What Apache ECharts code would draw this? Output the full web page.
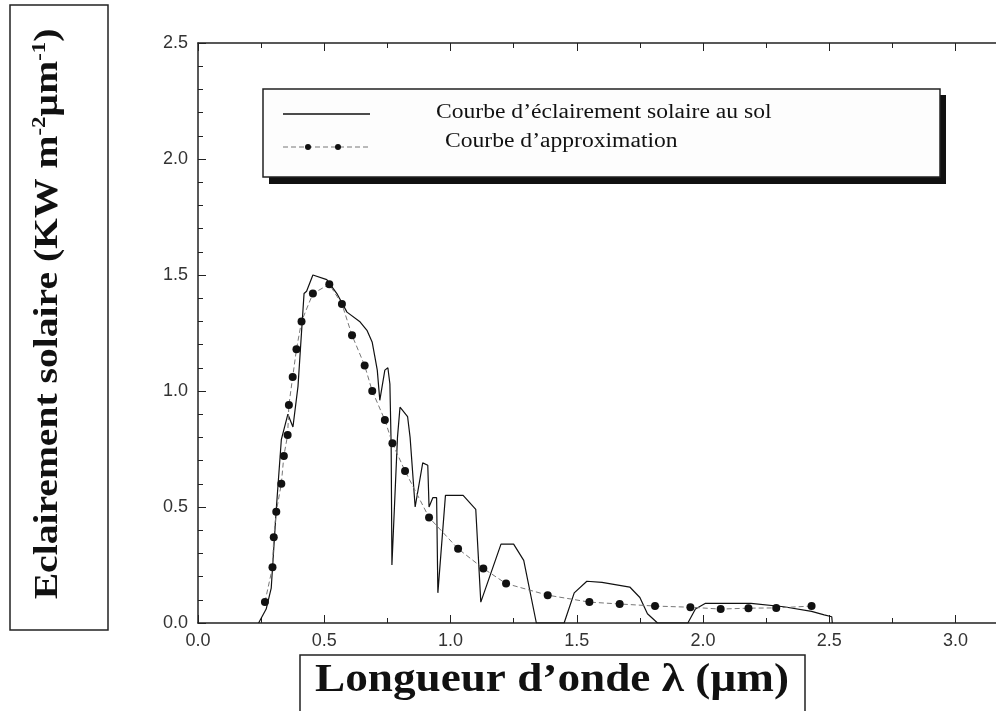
<!DOCTYPE html>
<html>
<head>
<meta charset="utf-8">
<script src="https://cdn.jsdelivr.net/npm/echarts@6/dist/echarts.min.js"></script>
<style>
html,body{margin:0;padding:0;background:#fff;}
#main{width:996px;height:711px;}
</style>
</head>
<body>
<div id="main"></div>
<script>
// courbe mesuree (eclairement solaire au sol)
var solX = [0.24,0.27,0.29,0.31,0.33,0.356,0.376,0.396,0.42,0.43,0.455,0.51,0.55,0.59,0.64,0.67,0.69,0.70,0.71,0.72,0.74,0.752,0.76,0.765,0.768,0.79,0.80,0.83,0.84,0.86,0.89,0.91,0.915,0.93,0.945,0.95,0.98,1.05,1.10,1.12,1.20,1.25,1.29,1.34,1.45,1.49,1.54,1.60,1.71,1.75,1.78,1.82,1.94,1.97,2.01,2.19,2.32,2.43,2.48,2.51,2.512];
var solY = [0,0.06,0.15,0.49,0.79,0.90,0.845,1.02,1.42,1.43,1.50,1.48,1.42,1.34,1.30,1.26,1.21,1.15,1.09,0.96,1.09,1.10,1.03,0.76,0.25,0.80,0.93,0.89,0.80,0.50,0.69,0.68,0.50,0.54,0.54,0.13,0.55,0.55,0.49,0.09,0.34,0.34,0.27,0,0,0.13,0.18,0.175,0.155,0.11,0.04,0,0,0.06,0.085,0.085,0.07,0.05,0.035,0.027,0];

// courbe d'approximation (points)
var approxX = [0.265,0.295,0.30,0.31,0.33,0.34,0.355,0.36,0.375,0.39,0.41,0.455,0.52,0.57,0.61,0.66,0.69,0.74,0.77,0.82,0.915,1.03,1.13,1.22,1.385,1.55,1.67,1.81,1.95,2.07,2.18,2.29,2.43];
var approxY = [0.09,0.24,0.37,0.48,0.60,0.72,0.81,0.94,1.06,1.18,1.30,1.42,1.46,1.375,1.24,1.11,1.0,0.875,0.775,0.655,0.455,0.32,0.235,0.17,0.12,0.09,0.082,0.073,0.068,0.06,0.064,0.065,0.073];

var xTicks = ['0.0','0.5','1.0','1.5','2.0','2.5','3.0'];
var yTicks = ['0.0','0.5','1.0','1.5','2.0','2.5'];

var legendNames = ['Courbe d\u2019éclairement solaire au sol', 'Courbe d\u2019approximation'];

function pairs(xs, ys){
	var out = [];
	for(var i=0;i<xs.length;i++){ out.push([xs[i], ys[i]]); }
	return out;
}
// libelle seulement sur les graduations principales
function tickLabel(list){
	return function(v){
		var i = v/0.5;
		if(Math.abs(i-Math.round(i))>1e-6) return '';
		return list[Math.round(i)] || '';
	};
}

var axisCol = '#222';
var tickFont = {fontFamily:'Liberation Sans, Arial', fontSize:18, color:'#333'};

var chart = echarts.init(document.getElementById('main'), null, {renderer:'canvas'});
var option = {
	backgroundColor:'#fff',
	animation:false,
	grid:{left:198, top:43, right:-10, bottom:88, outerBoundsMode:'none', containLabel:false},
	xAxis:[{
		type:'value', min:0, max:3.2, interval:0.5,
		axisLine:{show:true, onZero:false, lineStyle:{color:axisCol, width:1.5}},
		axisTick:{show:true, inside:true, length:8, lineStyle:{color:axisCol}},
		minorTick:{show:true, splitNumber:2, length:5, lineStyle:{color:axisCol}},
		splitLine:{show:false},
		axisLabel:Object.assign({margin:9, showMaxLabel:false, formatter:tickLabel(xTicks)}, tickFont)
	},{
		// bord superieur du cadre
		type:'value', position:'top', min:0, max:3.2, interval:0.5,
		axisLine:{show:true, onZero:false, lineStyle:{color:axisCol, width:1.5}},
		axisTick:{show:true, inside:true, length:8, lineStyle:{color:axisCol}},
		minorTick:{show:true, splitNumber:2, length:5, lineStyle:{color:axisCol}},
		splitLine:{show:false},
		axisLabel:{show:false}
	}],
	yAxis:{
		type:'value', min:0, max:2.5, interval:0.5,
		axisLine:{show:true, lineStyle:{color:axisCol, width:1.5}},
		axisTick:{show:true, inside:true, length:8, lineStyle:{color:axisCol}},
		minorTick:{show:true, splitNumber:5, length:5, lineStyle:{color:axisCol}},
		splitLine:{show:false},
		axisLabel:Object.assign({margin:10, formatter:tickLabel(yTicks)}, tickFont)
	},
	series:[
		{
			name:legendNames[0],
			type:'line',
			showSymbol:false,
			symbol:'none',
			lineStyle:{color:'#111', width:1.2},
			data:pairs(solX, solY)
		},
		{
			name:legendNames[1],
			type:'line',
			symbol:'circle',
			symbolSize:8,
			itemStyle:{color:'#111'},
			lineStyle:{color:'#777', width:1, type:[5,3]},
			data:pairs(approxX, approxY)
		}
	],
	graphic:[
		// legende
		{type:'rect', shape:{x:269, y:95, width:677, height:89}, style:{fill:'#111'}, z:100},
		{type:'rect', shape:{x:263, y:89, width:677, height:88}, style:{fill:'#fdfdfd', stroke:'#222', lineWidth:1.5}, z:101},
		{type:'line', shape:{x1:283, y1:114, x2:370, y2:114}, style:{stroke:'#111', lineWidth:1.5}, z:102},
		{type:'line', shape:{x1:283, y1:147, x2:368, y2:147}, style:{stroke:'#777', lineWidth:1, lineDash:[5,3]}, z:102},
		{type:'circle', shape:{cx:308, cy:147, r:3}, style:{fill:'#111'}, z:103},
		{type:'circle', shape:{cx:338, cy:147, r:3}, style:{fill:'#111'}, z:103},
		{type:'text', x:436, y:113, scaleX:1.18, style:{text:legendNames[0], font:'20px "Liberation Serif", "Times New Roman", serif', fill:'#111', verticalAlign:'middle'}, z:103},
		{type:'text', x:445, y:142, scaleX:1.18, style:{text:legendNames[1], font:'20px "Liberation Serif", "Times New Roman", serif', fill:'#111', verticalAlign:'middle'}, z:103},
		// titre axe y
		{type:'rect', shape:{x:10, y:5, width:98, height:625}, style:{fill:'none', stroke:'#222', lineWidth:1.5}},
		{type:'text', x:48, y:314, rotation:Math.PI/2, scaleX:1.2,
			style:{
				text:'{t|Eclairement solaire (KW m}{s|-2}{t|\u00b5m}{s|-1}{t|)}',
				align:'center', verticalAlign:'middle',
				rich:{
					t:{font:'bold 33px "Liberation Serif", "Times New Roman", serif', fill:'#111'},
					s:{font:'bold 19px "Liberation Serif", "Times New Roman", serif', fill:'#111', verticalAlign:'top', padding:[0,0,15,0]}
				}
			}},
		// titre axe x
		{type:'rect', shape:{x:300, y:655, width:505, height:70}, style:{fill:'none', stroke:'#222', lineWidth:1.5}},
		{type:'text', x:552, y:681, scaleX:1.13, style:{text:'Longueur d\u2019onde \u03bb (\u00b5m)', font:'bold 40px "Liberation Serif", "Times New Roman", serif', fill:'#111', align:'center', verticalAlign:'middle'}}
	]
};

chart.setOption(option);
</script>
</body>
</html>
